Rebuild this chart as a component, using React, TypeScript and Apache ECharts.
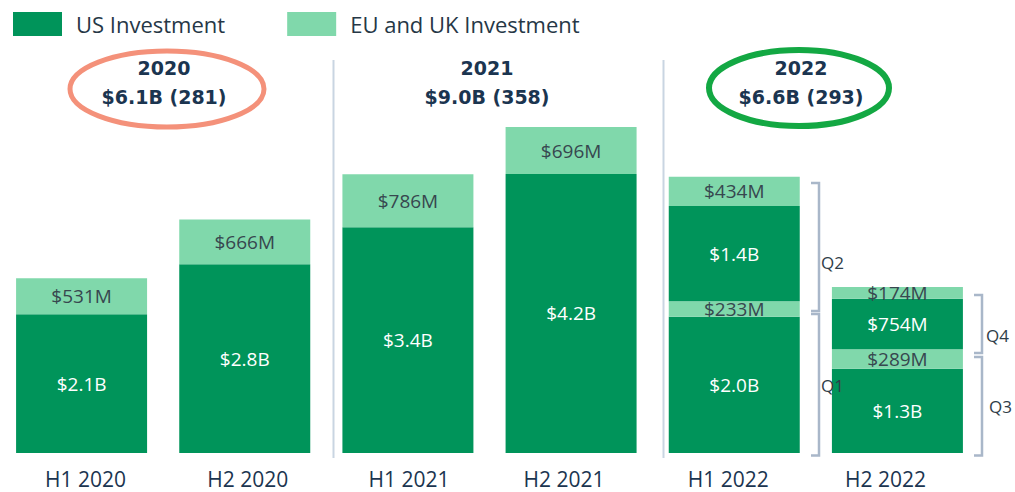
import React, { useEffect, useRef } from "react";
import * as echarts from "echarts";

const categories = ["H1 2020", "H2 2020", "H1 2021", "H2 2021", "H1 2022", "H2 2022"];
// first stacked pair (H1/H2 for 2020-2021, Q1/Q3 for 2022)
const usFirst = [2.06, 2.8, 3.35, 4.14, 2.02, 1.25];
const euFirst = [0.531, 0.666, 0.786, 0.696, 0.233, 0.289];
// second stacked pair (Q2/Q4 for 2022)
const usSecond: (number | string)[] = ["-", "-", "-", "-", 1.41, 0.75];
const euSecond: (number | string)[] = ["-", "-", "-", "-", 0.434, 0.174];

const usFirstLabels = ["$2.1B", "$2.8B", "$3.4B", "$4.2B", "$2.0B", "$1.3B"];
const euFirstLabels = ["$531M", "$666M", "$786M", "$696M", "$233M", "$289M"];
const usSecondLabels = ["", "", "", "", "$1.4B", "$754M"];
const euSecondLabels = ["", "", "", "", "$434M", "$174M"];

const yearTitles = ["2020", "2021", "2022"];
const yearTotals = ["$6.1B (281)", "$9.0B (358)", "$6.6B (293)"];
const quarterNames = ["Q1", "Q2", "Q3", "Q4"];

const labelShift = [4, 3, 1, -7, -6, -12];

const US = "#00945A";
const EU = "#80D8AB";
const NAVY = "#1B3550";
const FONT = "Open Sans";

export default function App() {
  const ref = useRef<HTMLDivElement>(null);
  useEffect(() => {
    document.body.style.margin = "0";
    const chart = echarts.init(ref.current!, null, { renderer: "svg" });
    const rich: any = {};
    labelShift.forEach((s, i) => {
      rich["c" + i] = {
        fontSize: 21,
        lineHeight: 20,
        fontFamily: FONT,
        color: NAVY,
        padding: s >= 0 ? [0, 0, 0, 2 * s] : [0, -2 * s, 0, 0],
      };
    });
    const barLabel = (arr: string[], color: string) => ({
      show: true,
      position: "inside",
      fontSize: 19,
      fontFamily: FONT,
      color,
      formatter: (p: any) => arr[p.dataIndex],
    });
    const bracket = (x: number, y1: number, y2: number) => ({
      type: "polyline",
      z: 100,
      shape: { points: [[x - 8, y1], [x, y1], [x, y2], [x - 8, y2]] },
      style: { fill: "none", stroke: "#A9B7C9", lineWidth: 2.5 },
    });
    const qText = (t: string, x: number, y: number) => ({
      type: "text",
      z: 100,
      x,
      y,
      style: { text: t, fontSize: 17, fontFamily: FONT, fill: "#2F3D48", textVerticalAlign: "middle" },
    });
    const titleText = (t: string, x: number, y: number) => ({
      type: "text",
      z: 100,
      x,
      y,
      style: {
        text: t,
        fontSize: 19,
        fontWeight: "bold",
        fontFamily: "DejaVu Sans",
        fill: NAVY,
        textAlign: "center",
        textVerticalAlign: "middle",
      },
    });
    const titleX = [164, 487, 801];
    chart.setOption({
      animation: false,
      legend: {
        left: 8,
        top: 7,
        itemWidth: 49,
        itemHeight: 24,
        itemGap: 62,
        icon: "rect",
        data: ["US Investment", "EU and UK Investment"],
        textStyle: { fontSize: 22, fontFamily: FONT, color: "#263746", padding: [0, 0, 0, 9] },
        selectedMode: false,
      },
      grid: { left: -2, width: 981, bottom: 39, top: 48.6 },
      xAxis: {
        type: "category",
        data: categories,
        axisLine: { show: false },
        axisTick: { show: false },
        axisLabel: {
          interval: 0,
          margin: 16,
          fontSize: 21,
          lineHeight: 20,
          fontFamily: FONT,
          color: NAVY,
          formatter: (v: string, i: number) => `{c${i}|${v}}`,
          rich,
        },
      },
      yAxis: { type: "value", min: 0, max: 6, show: false, splitLine: { show: false } },
      series: [
        { name: "US Investment", type: "bar", stack: "t", barWidth: 131, data: usFirst, itemStyle: { color: US }, label: barLabel(usFirstLabels, "#FFFFFF") },
        { name: "EU and UK Investment", type: "bar", stack: "t", barWidth: 131, data: euFirst, itemStyle: { color: EU }, label: barLabel(euFirstLabels, "#37474F") },
        { name: "US Investment", type: "bar", stack: "t", barWidth: 131, data: usSecond, itemStyle: { color: US }, label: barLabel(usSecondLabels, "#FFFFFF") },
        { name: "EU and UK Investment", type: "bar", stack: "t", barWidth: 131, data: euSecond, itemStyle: { color: EU }, label: barLabel(euSecondLabels, "#37474F") },
      ],
      graphic: [
        { type: "line", shape: { x1: 333.5, y1: 60, x2: 333.5, y2: 458 }, style: { stroke: "#C9D5E2", lineWidth: 2 } },
        { type: "line", shape: { x1: 663.5, y1: 60, x2: 663.5, y2: 458 }, style: { stroke: "#C9D5E2", lineWidth: 2 } },
        { type: "ellipse", shape: { cx: 167, cy: 89, rx: 97, ry: 38 }, style: { fill: "none", stroke: "#F4917A", lineWidth: 5 } },
        { type: "ellipse", shape: { cx: 799, cy: 88, rx: 90, ry: 38 }, style: { fill: "none", stroke: "#13A843", lineWidth: 6 } },
        ...yearTitles.map((t, i) => titleText(t, titleX[i], 68)),
        ...yearTotals.map((t, i) => titleText(t, titleX[i], 97)),
        bracket(819, 183, 311),
        bracket(819, 314, 455.5),
        bracket(982, 357, 455.5),
        bracket(982, 295, 353),
        qText(quarterNames[0], 821, 385),
        qText(quarterNames[1], 821, 262),
        qText(quarterNames[2], 989, 406),
        qText(quarterNames[3], 986, 335),
      ],
    });
    return () => chart.dispose();
  }, []);
  return <div ref={ref} style={{ width: 1015, height: 492 }} />;
}
